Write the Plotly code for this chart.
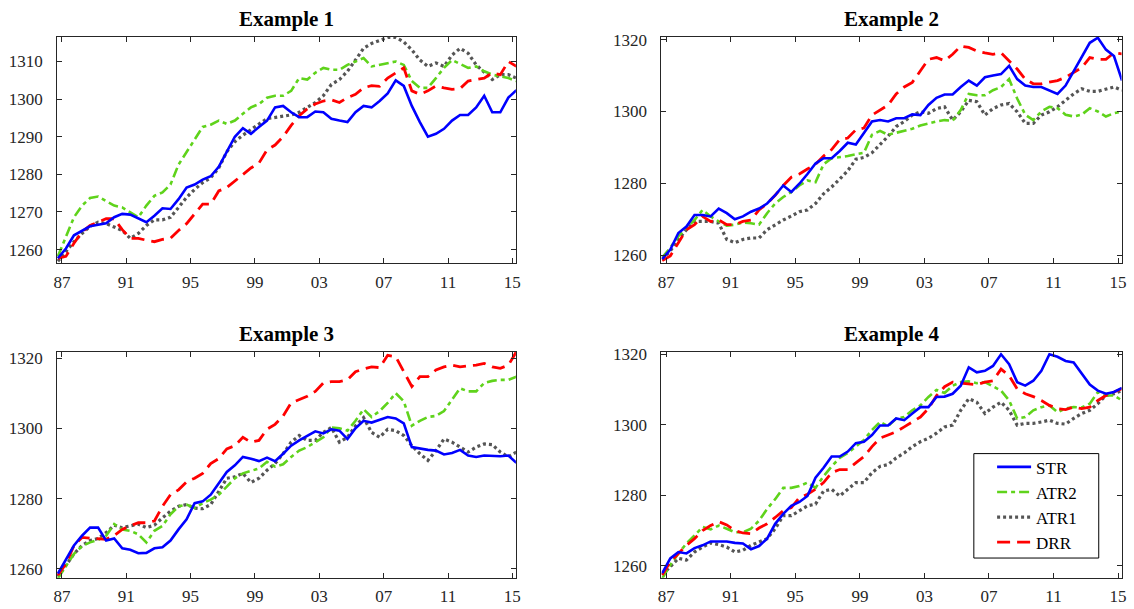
import plotly.graph_objects as go

# ---------------- data ----------------
years = [1986.75 + 0.5 * i for i in range(58)]
tick_years = [1987, 1991, 1995, 1999, 2003, 2007, 2011, 2015]
tick_labels = ["87", "91", "95", "99", "03", "07", "11", "15"]
series_names = ["STR", "ATR2", "ATR1", "DRR"]
titles = ["Example 1", "Example 2", "Example 3", "Example 4"]

ex1_str = [1257.7, 1260.3, 1263.8, 1265.0, 1266.2, 1266.6, 1267.0, 1268.6, 1269.5, 1269.3,
           1268.2, 1267.3, 1269.0, 1271.0, 1270.8, 1273.4, 1276.5, 1277.3, 1278.6, 1279.5,
           1282.0, 1286.0, 1290.0, 1292.3, 1290.8, 1292.6, 1294.3, 1297.8, 1298.2, 1296.5,
           1295.2, 1295.2, 1296.7, 1296.5, 1294.8, 1294.3, 1293.9, 1296.5, 1298.2, 1297.8,
           1299.5, 1301.5, 1305.0, 1303.5, 1298.2, 1293.9, 1290.0, 1290.8, 1292.1, 1294.3,
           1295.8, 1295.8, 1297.8, 1300.9, 1296.5, 1296.5, 1300.4, 1302.4]
ex1_atr2 = [1258.2, 1263.4, 1268.6, 1271.7, 1273.7, 1274.1, 1273.0, 1271.7, 1271.2, 1269.9,
            1268.6, 1271.7, 1274.3, 1275.2, 1277.3, 1282.6, 1286.0, 1289.5, 1292.6, 1293.2,
            1294.3, 1293.4, 1294.3, 1296.1, 1297.8, 1298.7, 1300.4, 1300.9, 1300.9, 1302.2,
            1305.6, 1305.2, 1307.0, 1308.3, 1307.8, 1307.8, 1309.1, 1310.0, 1310.9, 1308.7,
            1309.1, 1309.7, 1310.0, 1309.1, 1304.8, 1303.0, 1303.0, 1305.6, 1308.3, 1310.4,
            1309.4, 1308.3, 1308.7, 1307.4, 1306.5, 1306.1, 1305.6, 1304.8]
ex1_atr1 = [1256.9, 1259.5, 1262.1, 1264.3, 1266.2, 1267.3, 1266.9, 1266.0, 1265.1, 1263.0,
            1264.3, 1266.4, 1267.9, 1267.9, 1268.6, 1271.2, 1273.9, 1276.0, 1277.8, 1279.1,
            1281.7, 1286.0, 1288.7, 1290.4, 1292.0, 1293.4, 1294.8, 1295.2, 1295.6, 1295.8,
            1296.5, 1297.8, 1299.1, 1300.9, 1303.9, 1305.2, 1307.4, 1310.4, 1313.5, 1314.8,
            1315.7, 1316.4, 1316.4, 1315.2, 1313.1, 1310.4, 1308.7, 1309.6, 1308.7, 1311.7,
            1313.5, 1312.2, 1309.1, 1307.0, 1305.2, 1306.5, 1306.5, 1305.6]
ex1_drr = [1257.7, 1258.2, 1261.7, 1264.7, 1266.4, 1267.3, 1268.2, 1268.2, 1265.3, 1263.0,
           1263.0, 1262.5, 1262.1, 1262.7, 1263.0, 1265.1, 1266.9, 1269.5, 1272.1, 1272.1,
           1275.6, 1276.5, 1278.2, 1279.9, 1281.7, 1283.0, 1286.5, 1287.8, 1290.0, 1293.0,
           1295.6, 1297.4, 1298.7, 1299.5, 1299.8, 1299.1, 1300.4, 1301.3, 1303.0, 1303.6,
           1303.4, 1305.6, 1307.0, 1308.3, 1302.2, 1301.3, 1302.2, 1303.5, 1303.0, 1302.6,
           1302.8, 1304.8, 1305.2, 1305.6, 1307.0, 1306.5, 1310.0, 1308.7]

ex2_str = [1258.9, 1261.6, 1266.2, 1268.0, 1271.2, 1271.2, 1270.8, 1273.0, 1271.7, 1270.0,
           1270.8, 1272.1, 1273.0, 1274.4, 1276.7, 1279.4, 1277.6, 1279.9, 1282.6, 1285.5,
           1287.0, 1287.0, 1289.0, 1291.3, 1290.8, 1294.0, 1297.2, 1297.6, 1297.2, 1298.1,
           1298.1, 1299.2, 1299.0, 1301.8, 1303.8, 1304.7, 1304.7, 1306.8, 1308.6, 1307.2,
           1309.5, 1310.0, 1310.4, 1312.7, 1309.0, 1307.2, 1306.8, 1306.8, 1305.9, 1304.9,
           1307.2, 1311.3, 1315.4, 1319.1, 1320.5, 1317.2, 1315.4, 1308.6]
ex2_atr2 = [1259.4, 1262.1, 1265.3, 1267.6, 1269.8, 1272.6, 1270.8, 1269.4, 1268.2, 1268.5,
            1269.1, 1268.9, 1268.5, 1271.7, 1274.4, 1276.2, 1277.6, 1279.4, 1280.8, 1280.3,
            1285.3, 1287.0, 1287.2, 1287.6, 1288.1, 1288.5, 1293.5, 1294.6, 1293.5, 1294.0,
            1294.5, 1295.2, 1296.1, 1296.7, 1297.2, 1297.6, 1297.4, 1300.4, 1304.9, 1304.5,
            1304.5, 1305.9, 1306.8, 1309.0, 1303.6, 1299.1, 1297.6, 1300.0, 1301.3, 1300.9,
            1299.1, 1298.6, 1299.1, 1300.9, 1300.0, 1298.6, 1299.5, 1300.0]
ex2_atr1 = [1258.9, 1261.2, 1264.4, 1267.1, 1269.4, 1269.4, 1269.4, 1268.9, 1264.4, 1263.5,
            1264.4, 1264.8, 1264.8, 1267.1, 1268.5, 1269.8, 1270.9, 1272.1, 1272.6, 1274.4,
            1277.1, 1279.0, 1281.2, 1283.5, 1286.7, 1287.2, 1288.5, 1290.8, 1293.1, 1295.8,
            1297.2, 1299.0, 1299.9, 1299.5, 1300.8, 1301.3, 1297.6, 1299.9, 1303.1, 1302.7,
            1299.0, 1300.8, 1301.8, 1302.2, 1299.9, 1296.7, 1296.7, 1299.0, 1299.9, 1301.3,
            1303.1, 1304.9, 1306.3, 1305.6, 1305.6, 1306.1, 1306.8, 1305.9]
ex2_drr = [1258.5, 1259.8, 1263.5, 1267.1, 1268.5, 1270.8, 1269.4, 1269.8, 1268.5, 1268.5,
           1269.4, 1269.8, 1272.6, 1274.4, 1276.7, 1279.4, 1281.7, 1282.6, 1284.0, 1285.3,
           1287.6, 1289.4, 1292.2, 1292.6, 1294.9, 1295.4, 1299.0, 1300.5, 1301.8, 1304.9,
           1306.8, 1308.1, 1311.3, 1314.5, 1315.0, 1314.1, 1315.9, 1318.2, 1317.8, 1316.8,
           1316.3, 1315.9, 1316.3, 1314.1, 1311.8, 1309.0, 1307.7, 1307.7, 1308.1, 1308.6,
           1309.5, 1310.9, 1312.2, 1315.0, 1314.5, 1314.5, 1316.3, 1316.0]

ex3_str = [1258.6, 1262.8, 1266.6, 1269.4, 1271.7, 1271.7, 1268.0, 1268.6, 1265.8, 1265.4,
           1264.4, 1264.5, 1265.8, 1266.1, 1268.0, 1271.2, 1274.1, 1278.7, 1279.2, 1281.1,
           1284.4, 1287.6, 1289.5, 1291.9, 1291.4, 1290.7, 1291.7, 1290.7, 1292.8, 1295.1,
           1296.6, 1298.0, 1299.2, 1298.6, 1299.8, 1299.4, 1297.0, 1300.1, 1302.2, 1301.7,
           1302.6, 1303.3, 1302.9, 1301.5, 1294.7, 1294.2, 1293.9, 1293.7, 1292.6, 1293.0,
           1293.9, 1292.3, 1291.9, 1292.3, 1292.1, 1292.1, 1292.3, 1290.2]
ex3_atr2 = [1257.2, 1260.9, 1264.2, 1266.4, 1267.5, 1268.2, 1269.4, 1272.7, 1271.2, 1270.8,
            1269.8, 1267.5, 1270.8, 1272.2, 1275.5, 1277.8, 1278.3, 1277.3, 1278.7, 1279.7,
            1281.1, 1283.4, 1285.8, 1287.2, 1287.9, 1288.6, 1290.5, 1289.1, 1289.8, 1291.9,
            1293.7, 1294.7, 1296.1, 1297.5, 1300.3, 1300.1, 1299.4, 1302.2, 1305.5, 1303.3,
            1305.0, 1307.3, 1310.1, 1307.8, 1300.8, 1302.2, 1303.3, 1303.6, 1305.0, 1308.3,
            1311.5, 1310.6, 1310.6, 1313.0, 1313.6, 1313.9, 1313.9, 1314.8]
ex3_atr1 = [1257.7, 1260.9, 1264.2, 1266.6, 1268.0, 1268.6, 1270.3, 1272.4, 1271.7, 1272.2,
            1272.7, 1271.7, 1272.4, 1274.5, 1276.4, 1277.8, 1278.3, 1277.3, 1277.1, 1278.3,
            1282.0, 1285.8, 1286.2, 1287.2, 1284.6, 1285.8, 1288.1, 1290.0, 1292.8, 1296.1,
            1298.0, 1296.6, 1296.6, 1298.9, 1300.3, 1296.1, 1297.5, 1300.8, 1303.1, 1298.9,
            1297.5, 1299.8, 1299.4, 1298.0, 1295.1, 1292.8, 1290.9, 1293.7, 1297.0, 1296.1,
            1294.7, 1293.3, 1294.7, 1295.6, 1295.4, 1293.3, 1291.9, 1293.3]
ex3_drr = [1258.1, 1261.4, 1266.6, 1268.9, 1268.7, 1268.6, 1268.4, 1269.4, 1271.2, 1272.2,
           1273.1, 1273.1, 1273.6, 1277.8, 1281.1, 1282.5, 1284.8, 1285.8, 1287.2, 1290.0,
           1291.4, 1294.2, 1295.1, 1297.5, 1296.1, 1296.6, 1299.8, 1301.2, 1303.6, 1307.3,
           1308.3, 1309.2, 1310.6, 1313.0, 1313.4, 1313.4, 1313.9, 1316.2, 1317.0, 1317.6,
           1317.4, 1320.9, 1320.5, 1316.2, 1312.0, 1314.8, 1314.8, 1316.7, 1317.6, 1318.1,
           1317.6, 1317.9, 1318.1, 1318.6, 1317.6, 1317.2, 1318.1, 1321.9]

ex4_str = [1257.9, 1262.1, 1263.9, 1263.5, 1265.0, 1265.8, 1266.9, 1267.0, 1266.9, 1266.5,
           1266.3, 1264.7, 1265.6, 1267.7, 1271.9, 1274.7, 1277.0, 1278.1, 1279.8, 1285.0,
           1287.8, 1291.0, 1291.0, 1292.4, 1294.8, 1295.2, 1297.1, 1299.8, 1299.8, 1301.8,
           1301.3, 1303.2, 1305.0, 1305.0, 1307.9, 1308.0, 1308.8, 1311.1, 1316.3, 1314.9,
           1315.3, 1316.7, 1320.0, 1317.2, 1312.1, 1311.1, 1312.5, 1315.3, 1320.0, 1319.3,
           1318.1, 1317.7, 1314.4, 1311.4, 1309.7, 1308.8, 1309.3, 1310.5]
ex4_atr2 = [1256.4, 1260.2, 1263.5, 1266.3, 1268.6, 1271.0, 1270.3, 1271.4, 1270.5, 1269.5,
            1269.5, 1270.5, 1272.8, 1276.1, 1278.9, 1282.1, 1282.1, 1282.6, 1283.6, 1282.1,
            1285.4, 1288.2, 1290.6, 1292.0, 1293.8, 1295.7, 1298.5, 1300.8, 1299.6, 1301.8,
            1302.2, 1304.1, 1305.5, 1307.9, 1309.9, 1309.0, 1311.1, 1312.1, 1312.3, 1311.8,
            1312.1, 1310.8, 1309.7, 1306.9, 1301.8, 1302.2, 1304.1, 1305.0, 1305.5, 1303.6,
            1304.6, 1305.0, 1304.9, 1306.0, 1309.3, 1308.3, 1308.3, 1306.9]
ex4_atr1 = [1257.4, 1259.7, 1262.1, 1261.6, 1263.9, 1265.3, 1266.5, 1266.0, 1265.3, 1263.9,
            1264.4, 1265.8, 1266.7, 1267.7, 1270.5, 1274.2, 1274.2, 1275.6, 1277.0, 1277.5,
            1281.2, 1281.7, 1279.8, 1281.7, 1283.6, 1283.6, 1286.4, 1288.2, 1288.7, 1290.6,
            1292.0, 1293.8, 1295.2, 1296.2, 1297.6, 1299.4, 1299.9, 1304.1, 1307.4, 1306.4,
            1303.2, 1305.0, 1306.4, 1304.1, 1299.9, 1300.4, 1300.4, 1300.8, 1301.3, 1300.4,
            1300.2, 1301.8, 1303.2, 1304.1, 1306.0, 1308.3, 1308.8, 1309.7]
ex4_drr = [1257.4, 1261.1, 1263.5, 1265.8, 1267.7, 1270.0, 1271.4, 1272.5, 1271.6, 1270.0,
           1269.3, 1269.1, 1270.7, 1271.9, 1273.7, 1275.6, 1276.5, 1279.3, 1280.3, 1281.7,
           1283.6, 1286.4, 1287.3, 1287.3, 1289.2, 1291.0, 1293.8, 1296.2, 1297.1, 1298.0,
           1299.4, 1300.8, 1302.2, 1304.6, 1308.3, 1310.8, 1312.1, 1311.8, 1311.6, 1311.4,
           1312.1, 1312.5, 1315.8, 1313.9, 1310.2, 1308.8, 1308.0, 1306.9, 1305.5, 1304.6,
           1304.3, 1305.0, 1304.6, 1305.0, 1306.9, 1308.3, 1309.3, 1310.2]

y_ranges = [[1256.4, 1316.5], [1257.8, 1320.7], [1257.4, 1321.9], [1256.6, 1320.7]]
y_ticks = [[1260, 1270, 1280, 1290, 1300, 1310],
           [1260, 1280, 1300, 1320],
           [1260, 1280, 1300, 1320],
           [1260, 1280, 1300, 1320]]
panels = [
    {"STR": ex1_str, "ATR2": ex1_atr2, "ATR1": ex1_atr1, "DRR": ex1_drr},
    {"STR": ex2_str, "ATR2": ex2_atr2, "ATR1": ex2_atr1, "DRR": ex2_drr},
    {"STR": ex3_str, "ATR2": ex3_atr2, "ATR1": ex3_atr1, "DRR": ex3_drr},
    {"STR": ex4_str, "ATR2": ex4_atr2, "ATR1": ex4_atr1, "DRR": ex4_drr},
]

# ---------------- style ----------------
W, H = 1134, 609
styles = {
    "STR": dict(color="#0000FF", width=2.6, dash="solid"),
    "ATR2": dict(color="#5FD31B", width=2.6, dash="10px,4px,4px,4px"),
    "ATR1": dict(color="#555555", width=3.2, dash="3px,3px"),
    "DRR": dict(color="#FF0000", width=2.8, dash="13px,7px"),
}
draw_order = ["ATR1", "ATR2", "DRR", "STR"]
legend_rank = {"STR": 1, "ATR2": 2, "ATR1": 3, "DRR": 4}

x_dom = [[53.5 / W, 516 / W], [662.7 / W, 1126.5 / W]]
y_dom = [[(H - 260) / H, (H - 30.5) / H], [(H - 579.3) / H, (H - 350) / H]]
FONT = "Liberation Serif, Times New Roman, serif"
AXC = "#262626"

# legend frame (pixel box of the reference legend)
leg_left, leg_right, leg_top, leg_bottom = 977.6, 1103.5, 453.3, 559.3

fig = go.Figure()
layout = dict(
    width=W, height=H, margin=dict(l=0, r=0, t=0, b=0),
    paper_bgcolor="white", plot_bgcolor="white",
    font=dict(family=FONT, size=17, color=AXC),
    showlegend=True,
    legend=dict(x=996 / W, y=(H - 449) / H, xanchor="left", yanchor="top",
                bgcolor="rgba(0,0,0,0)", borderwidth=0,
                font=dict(family=FONT, size=17, color="#000000"),
                itemwidth=34, tracegroupgap=0),
    annotations=[],
    shapes=[dict(type="rect", xref="paper", yref="paper", layer="above",
                 x0=leg_left / W, x1=leg_right / W,
                 y0=(H - leg_bottom) / H, y1=(H - leg_top) / H,
                 fillcolor="white", line=dict(color="#000000", width=1))],
)

for k in range(4):
    r, c = divmod(k, 2)
    xa = "xaxis" if k == 0 else f"xaxis{k+1}"
    ya = "yaxis" if k == 0 else f"yaxis{k+1}"
    xref = "x" if k == 0 else f"x{k+1}"
    yref = "y" if k == 0 else f"y{k+1}"
    common = dict(showgrid=False, zeroline=False, showline=True, linecolor=AXC,
                  linewidth=1, mirror="allticks", ticks="inside", ticklen=5,
                  tickcolor=AXC, tickwidth=1,
                  tickfont=dict(family=FONT, size=17, color=AXC))
    layout[xa] = dict(domain=x_dom[c], anchor=yref, range=[1986.7, 2015.22],
                      tickmode="array", tickvals=tick_years, ticktext=tick_labels,
                      ticklabelstandoff=3, **common)
    layout[ya] = dict(domain=y_dom[r], anchor=xref, range=y_ranges[k],
                      tickmode="array", tickvals=y_ticks[k],
                      ticktext=[str(v) for v in y_ticks[k]],
                      ticklabelstandoff=10, **common)
    for name in draw_order:
        st = styles[name]
        fig.add_trace(go.Scatter(
            x=years, y=panels[k][name], mode="lines", name=name,
            line=dict(color=st["color"], width=st["width"], dash=st["dash"]),
            xaxis=xref, yaxis=yref, showlegend=(k == 3),
            legendrank=legend_rank[name], hoverinfo="skip"))
    top_px = 30.5 if r == 0 else 350
    layout["annotations"].append(dict(
        text=f"<b>{titles[k]}</b>", xref="paper", yref="paper",
        x=(x_dom[c][0] + x_dom[c][1]) / 2, y=(H - (top_px - 18)) / H,
        xanchor="center", yanchor="middle", showarrow=False,
        font=dict(family=FONT, size=21, color="#000000")))

fig.update_layout(**layout)
fig.write_html("out.html")
